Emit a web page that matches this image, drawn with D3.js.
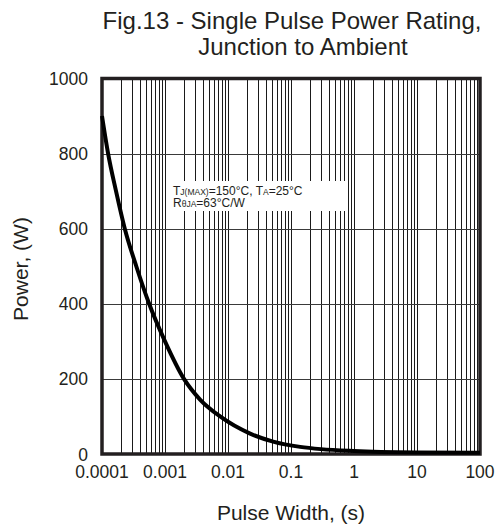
<!DOCTYPE html>
<html>
<head>
<meta charset="utf-8">
<script src="https://cdn.jsdelivr.net/npm/d3@7"></script>
<style>
  body { margin: 0; background: #fff; }
  text { font-family: 'Liberation Sans', Arial, sans-serif; fill: #231f20; }
</style>
</head>
<body>
<div id="chart"></div>
<script>
'use strict'

// curve: pulse width (s) vs power (W)
const pulseWidth = [1e-4, 1.25e-4, 1.67e-4, 2.3e-4, 3.5e-4, 5.6e-4, 1e-3, 2e-3, 3.6e-3, 7.5e-3, 2.2e-2, 5.2e-2, 0.14, 0.3, 1, 10, 100]
const power = [900, 800, 700, 600, 500, 400, 300, 200, 145, 100, 55, 33, 19, 13, 8, 4, 3]

const xTickValues = [1e-4, 1e-3, 1e-2, 1e-1, 1, 10, 100]
const xTickLabels = ['0.0001', '0.001', '0.01', '0.1', '1', '10', '100']
const yTickValues = [0, 200, 400, 600, 800, 1000]

const width = 497
const height = 525
const plot = { left: 102, right: 480, top: 78.5, bottom: 454 }
const ink = '#231f20'

const svg = d3.select('#chart')
  .append('svg')
  .attr('width', width)
  .attr('height', height)

const x = d3.scaleLog().domain([1e-4, 100]).range([plot.left, plot.right])
const y = d3.scaleLinear().domain([0, 1000]).range([plot.bottom, plot.top])

// minor + major vertical grid: 1..9 of every decade
const xGrid = []
for (let e = -4; e < 2; e++) {
  for (let k = 1; k < 10; k++) xGrid.push(k * Math.pow(10, e))
}

const grid = svg.append('g')
grid.selectAll('line.v')
  .data(xGrid)
  .enter().append('line')
  .attr('class', 'v')
  .attr('x1', d => Math.round(x(d)) + 0.5)
  .attr('x2', d => Math.round(x(d)) + 0.5)
  .attr('y1', plot.top)
  .attr('y2', plot.bottom)
  .attr('stroke', '#1a1a1a')
  .attr('stroke-width', 1)

grid.selectAll('line.h')
  .data(yTickValues.slice(1, -1))
  .enter().append('line')
  .attr('class', 'h')
  .attr('x1', plot.left)
  .attr('x2', plot.right)
  .attr('y1', d => Math.round(y(d)) + 0.5)
  .attr('y2', d => Math.round(y(d)) + 0.5)
  .attr('stroke', '#3a3a3a')
  .attr('stroke-width', 1)

// annotation with white background
const note = svg.append('g')
note.append('rect')
  .attr('x', 168)
  .attr('y', 181)
  .attr('width', 177)
  .attr('height', 30)
  .attr('fill', '#fff')

const line1 = note.append('text').attr('x', 173).attr('y', 194.5).style('font-size', '12px')
line1.append('tspan').text('T')
line1.append('tspan').style('font-size', '8.5px').text('J(MAX)')
line1.append('tspan').text('=150°C, T')
line1.append('tspan').style('font-size', '8.5px').text('A')
line1.append('tspan').text('=25°C')

const line2 = note.append('text').attr('x', 173).attr('y', 207).style('font-size', '12px')
line2.append('tspan').text('R')
line2.append('tspan').style('font-size', '8.5px').text('θJA')
line2.append('tspan').text('=63°C/W')

// frame
svg.append('rect')
  .attr('x', plot.left)
  .attr('y', plot.top)
  .attr('width', plot.right - plot.left)
  .attr('height', plot.bottom - plot.top)
  .attr('fill', 'none')
  .attr('stroke', ink)
  .attr('stroke-width', 3.5)

// curve
const line = d3.line()
  .x(d => x(d[0]))
  .y(d => y(d[1]))
  .curve(d3.curveMonotoneX)

svg.append('path')
  .datum(d3.zip(pulseWidth, power))
  .attr('d', line)
  .attr('fill', 'none')
  .attr('stroke', '#000')
  .attr('stroke-width', 4)
  .attr('stroke-linejoin', 'round')

// tick labels
svg.append('g').selectAll('text')
  .data(xTickValues)
  .enter().append('text')
  .attr('x', d => x(d))
  .attr('y', 478)
  .attr('text-anchor', 'middle')
  .style('font-size', '17.5px')
  .text((d, i) => xTickLabels[i])

svg.append('g').selectAll('text')
  .data(yTickValues)
  .enter().append('text')
  .attr('x', 88)
  .attr('y', d => y(d))
  .attr('dy', d => d === 0 ? '0.38em' : '0.35em')
  .attr('text-anchor', 'end')
  .style('font-size', '17.5px')
  .text(d => d)

// axis titles
svg.append('text')
  .attr('x', 291)
  .attr('y', 520)
  .attr('text-anchor', 'middle')
  .style('font-size', '21px')
  .text('Pulse Width, (s)')

svg.append('text')
  .attr('transform', 'translate(28,269) rotate(-90)')
  .attr('text-anchor', 'middle')
  .style('font-size', '21px')
  .text('Power, (W)')

// chart title
svg.append('text')
  .attr('x', 292)
  .attr('y', 29)
  .attr('text-anchor', 'middle')
  .style('font-size', '24px')
  .text('Fig.13 - Single Pulse Power Rating,')

svg.append('text')
  .attr('x', 303)
  .attr('y', 55)
  .attr('text-anchor', 'middle')
  .style('font-size', '24px')
  .text('Junction to Ambient')
</script>
</body>
</html>
